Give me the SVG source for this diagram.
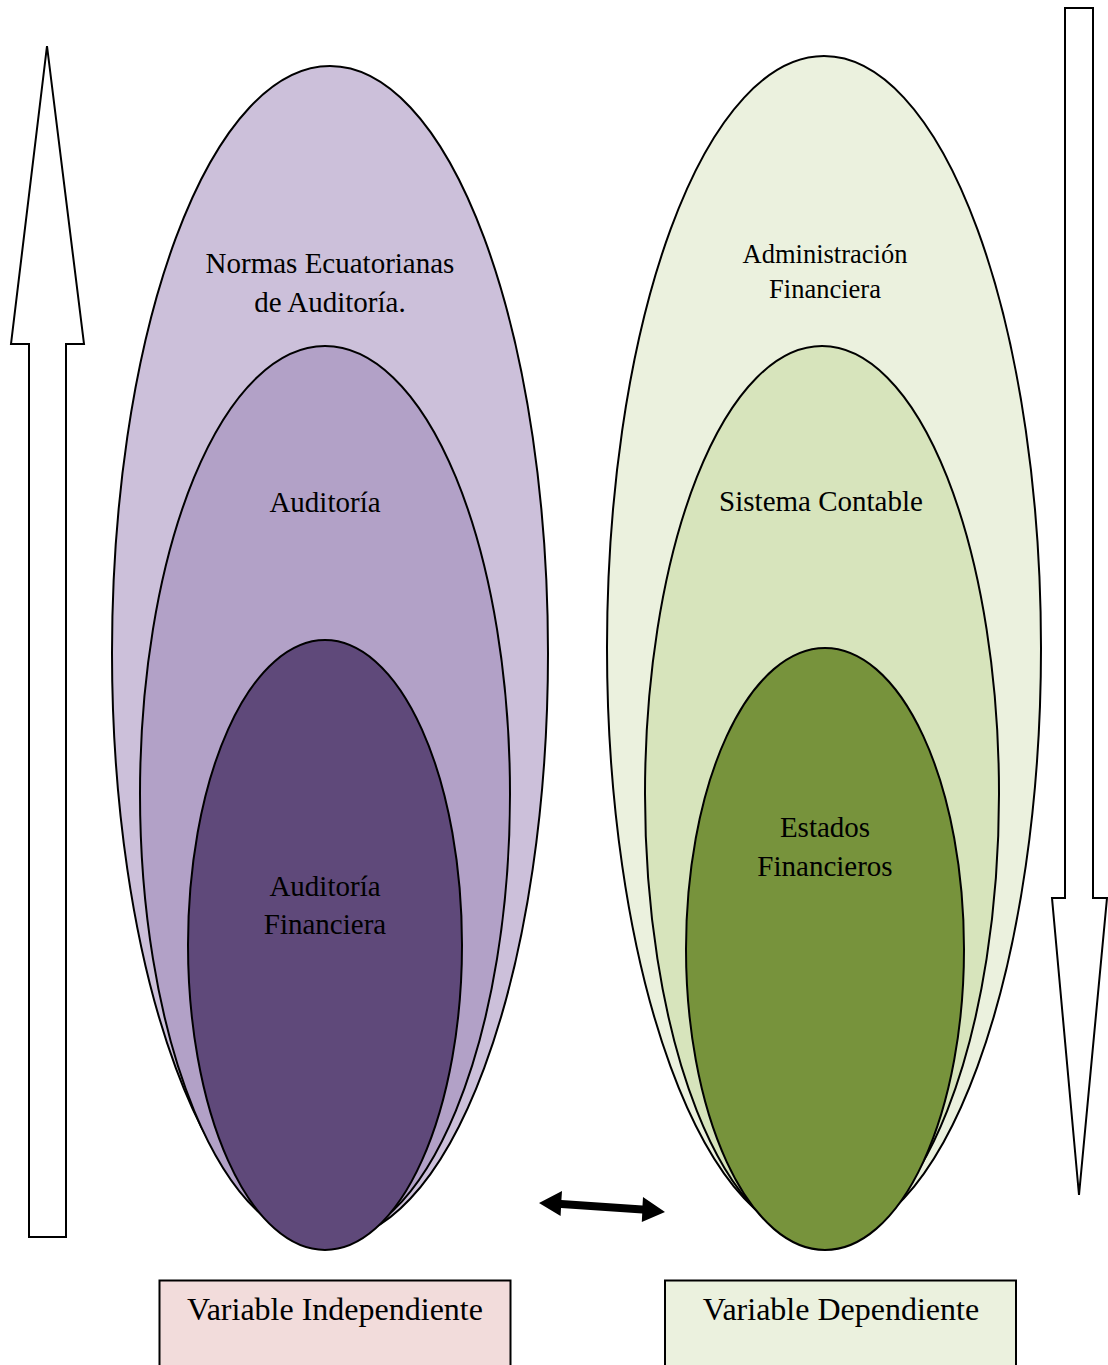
<svg xmlns="http://www.w3.org/2000/svg" width="1108" height="1365" viewBox="0 0 1108 1365">
  <style>
    .shape { stroke: #000; stroke-width: 2; }
    .label { font-family: "Liberation Serif", "Times New Roman", serif; fill: #000; text-anchor: middle; }
    .big { font-size: 29px; }
    .mid { font-size: 26.5px; }
    .box { font-size: 32px; }
    .hollow { fill: #fff; stroke: #000; stroke-width: 2; stroke-linejoin: miter; }
  </style>
  <rect width="1108" height="1365" fill="#fff"/>

  <!-- Independent variable nesting -->
  <g id="normas">
    <ellipse class="shape" cx="330" cy="653" rx="218" ry="587" fill="#ccc0da"/>
    <text class="label big" x="330" y="273">Normas Ecuatorianas</text>
    <text class="label big" x="330" y="312">de Auditoría.</text>
  </g>
  <g id="auditoria">
    <ellipse class="shape" cx="325" cy="794" rx="185" ry="448" fill="#b2a1c7"/>
    <text class="label big" x="325" y="512">Auditoría</text>
  </g>
  <g id="auditoria-financiera">
    <ellipse class="shape" cx="325" cy="945" rx="137" ry="305" fill="#5f497a"/>
    <text class="label big" x="325" y="896">Auditoría</text>
    <text class="label big" x="325" y="934">Financiera</text>
  </g>

  <!-- Dependent variable nesting -->
  <g id="administracion">
    <ellipse class="shape" cx="824" cy="648" rx="217" ry="592" fill="#ebf1de"/>
    <text class="label mid" x="825" y="263">Administración</text>
    <text class="label mid" x="825" y="298">Financiera</text>
  </g>
  <g id="sistema-contable">
    <ellipse class="shape" cx="822" cy="794" rx="177" ry="448" fill="#d7e4bc"/>
    <text class="label big" x="821" y="511">Sistema Contable</text>
  </g>
  <g id="estados-financieros">
    <ellipse class="shape" cx="825" cy="949" rx="139" ry="301" fill="#77933c"/>
    <text class="label big" x="825" y="837">Estados</text>
    <text class="label big" x="825" y="876">Financieros</text>
  </g>

  <!-- Variable labels -->
  <g id="variable-independiente">
    <rect class="shape" x="159.5" y="1280.5" width="351" height="90" fill="#f2dcdb"/>
    <text class="label box" x="335" y="1320">Variable Independiente</text>
  </g>
  <g id="variable-dependiente">
    <rect class="shape" x="665" y="1280.5" width="351" height="90" fill="#ebf1de"/>
    <text class="label box" x="841" y="1320">Variable Dependiente</text>
  </g>

  <!-- Connectors -->
  <g id="connectors">
    <polygon class="hollow" points="47,46 84,344 66,344 66,1237 29,1237 29,344 11,344"/>
    <polygon class="hollow" points="1065,8 1093,8 1093,898 1107,898 1079,1195 1052,898 1065,898"/>
    <polygon fill="#000" points="539,1203 562,1191 561.4,1200 642.5,1205.5 643,1197 665,1212 641.8,1222 642.2,1213.5 561,1208 560.6,1216"/>
  </g>
</svg>
